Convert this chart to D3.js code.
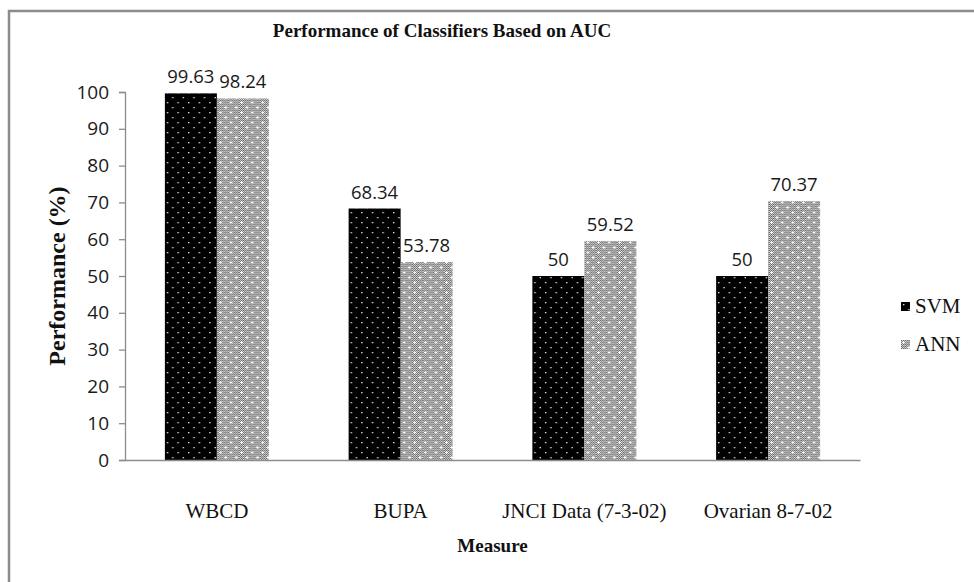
<!DOCTYPE html>
<html>
<head>
<meta charset="utf-8">
<script src="https://cdn.jsdelivr.net/npm/d3@7"></script>
<style>
  html, body { margin: 0; padding: 0; background: #fff; }
  svg { display: block; }
</style>
</head>
<body>
<svg id="chart" width="974" height="582"></svg>
<script>
// Data
const categories = ["WBCD", "BUPA", "JNCI Data (7-3-02)", "Ovarian 8-7-02"];
const seriesNames = ["SVM", "ANN"];
const svmValues = [99.63, 68.34, 50, 50];
const annValues = [98.24, 53.78, 59.52, 70.37];
const yTicks = [0, 10, 20, 30, 40, 50, 60, 70, 80, 90, 100];
const titleText = "Performance of Classifiers Based on AUC";
const xTitle = "Measure";
const yTitle = "Performance (%)";

const svg = d3.select("#chart");
const serif = "'Liberation Serif', 'Times New Roman', serif";
const sans = "'Open Sans', 'Noto Sans', sans-serif";

// Fill patterns: white dots on black (SVM), checker with white crosses (ANN)
const defs = svg.append("defs");
const dots = defs.append("pattern").attr("id", "pat-svm")
  .attr("patternUnits", "userSpaceOnUse").attr("width", 10.6).attr("height", 10);
dots.append("rect").attr("width", 10.6).attr("height", 10).attr("fill", "#000");
[[2, 2], [7.3, 7]].forEach(([x, y]) =>
  dots.append("rect").attr("x", x).attr("y", y).attr("width", 1.3).attr("height", 1.3).attr("fill", "#f4f4f4"));

const checker = defs.append("pattern").attr("id", "pat-checker")
  .attr("patternUnits", "userSpaceOnUse").attr("width", 2).attr("height", 2);
checker.append("rect").attr("width", 2).attr("height", 2).attr("fill", "#e8e8e8");
checker.append("rect").attr("width", 1).attr("height", 1).attr("fill", "#5a5a5a");
checker.append("rect").attr("x", 1).attr("y", 1).attr("width", 1).attr("height", 1).attr("fill", "#5a5a5a");

const cross = defs.append("pattern").attr("id", "pat-ann")
  .attr("patternUnits", "userSpaceOnUse").attr("width", 10.6).attr("height", 10);
cross.append("rect").attr("width", 10.6).attr("height", 10).attr("fill", "url(#pat-checker)");
[[2.5, 2.5], [7.8, 7.5]].forEach(([x, y]) => {
  cross.append("rect").attr("x", x - 1.5).attr("y", y - 0.5).attr("width", 3).attr("height", 1).attr("fill", "#fff");
  cross.append("rect").attr("x", x - 0.5).attr("y", y - 1.5).attr("width", 1).attr("height", 3).attr("fill", "#fff");
});

const fills = { SVM: "url(#pat-svm)", ANN: "url(#pat-ann)" };

// Outer frame
svg.append("rect").attr("x", 9).attr("y", 11).attr("width", 1000).attr("height", 620)
  .attr("fill", "none").attr("stroke", "#8c8c8c").attr("stroke-width", 2.5);

// Plot area
const plot = { left: 125, right: 860, top: 92, bottom: 460 };

const x = d3.scaleBand().domain(categories)
  .range([plot.left, plot.right]).paddingInner(0.434).paddingOuter(0.217);
const xs = d3.scaleBand().domain(seriesNames).range([0, x.bandwidth()]).padding(0);
const y = d3.scaleLinear().domain([0, 100]).range([plot.bottom, plot.top]);

const rows = categories.map((c, i) => ({ cat: c, values: [
  { name: "SVM", value: svmValues[i] },
  { name: "ANN", value: annValues[i] }
]}));

// Y axis
const yAxis = svg.append("g").attr("transform", `translate(${plot.left},0)`)
  .call(d3.axisLeft(y).tickValues(yTicks).tickSize(6).tickPadding(10).tickFormat(d3.format("d")));
yAxis.select(".domain").attr("stroke", "#8c8c8c").attr("stroke-width", 1.3);
yAxis.selectAll(".tick line").attr("stroke", "#8c8c8c").attr("stroke-width", 1.3);
yAxis.selectAll(".tick text").attr("font-family", sans).attr("font-size", 19).attr("fill", "#1a1a1a");

// Bars
const groups = svg.append("g").selectAll("g").data(rows).join("g")
  .attr("transform", d => `translate(${x(d.cat)},0)`);
groups.selectAll("rect").data(d => d.values).join("rect")
  .attr("x", d => xs(d.name))
  .attr("y", d => y(d.value))
  .attr("width", xs.bandwidth())
  .attr("height", d => y(0) - y(d.value))
  .attr("fill", d => fills[d.name]);

// Value labels
groups.selectAll("text").data(d => d.values).join("text")
  .attr("x", d => xs(d.name) + xs.bandwidth() / 2)
  .attr("y", d => y(d.value) - 10)
  .attr("text-anchor", "middle")
  .attr("font-family", sans).attr("font-size", 18.5).attr("fill", "#1a1a1a")
  .text(d => d.value);

// X axis line and category labels
const xAxis = svg.append("g").attr("transform", `translate(0,${plot.bottom})`)
  .call(d3.axisBottom(x).tickSize(0).tickPadding(0));
xAxis.select(".domain").attr("stroke", "#8c8c8c").attr("stroke-width", 1.3);
xAxis.selectAll(".tick text").attr("font-family", serif).attr("font-size", 21)
  .attr("fill", "#111").attr("dy", null).attr("y", 58);

// Titles
svg.append("text").attr("x", 442).attr("y", 37).attr("text-anchor", "middle")
  .attr("font-family", serif).attr("font-size", 19).attr("font-weight", "bold").attr("fill", "#111")
  .text(titleText);
svg.append("text").attr("x", (plot.left + plot.right) / 2).attr("y", 552).attr("text-anchor", "middle")
  .attr("font-family", serif).attr("font-size", 19).attr("font-weight", "bold").attr("fill", "#111")
  .text(xTitle);
svg.append("text").attr("transform", `translate(65,${(plot.top + plot.bottom) / 2}) rotate(-90)`)
  .attr("text-anchor", "middle")
  .attr("font-family", serif).attr("font-size", 24).attr("font-weight", "bold").attr("fill", "#111")
  .text(yTitle);

// Legend
const legend = svg.append("g").selectAll("g").data(seriesNames).join("g")
  .attr("transform", (d, i) => `translate(901,${302 + i * 38})`);
legend.append("rect").attr("width", 9).attr("height", 9).attr("fill", d => fills[d]);
legend.append("text").attr("x", 14).attr("y", 11)
  .attr("font-family", serif).attr("font-size", 21).attr("fill", "#111")
  .text(d => d);
</script>
</body>
</html>
